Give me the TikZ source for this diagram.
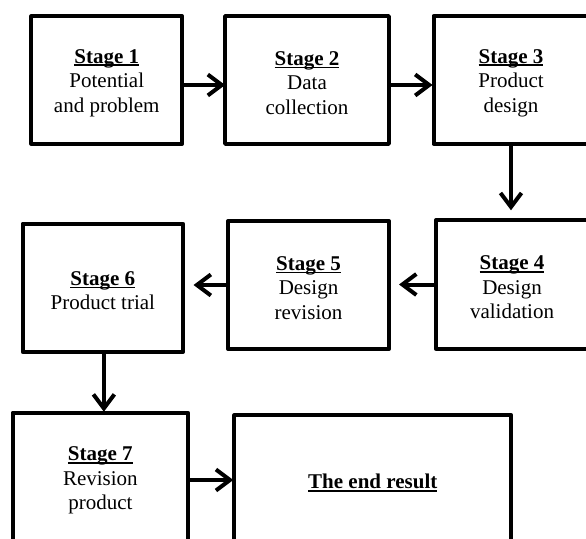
\documentclass[tikz,border=0pt]{standalone}
\usepackage{fontspec}
\setmainfont{Liberation Serif}
\usetikzlibrary{arrows.meta}
\newcommand\myul[1]{\setbox0\hbox{\bfseries #1}\rule{0pt}{20bp}\rlap{\rule[-3bp]{\wd0}{1.8bp}}\box0}
\begin{document}
\begin{tikzpicture}[x=1bp,y=-1bp,
  stagebox/.style={draw, line width=4bp, line join=round, inner sep=0pt, align=center,
    font=\fontsize{21bp}{24.5bp}\selectfont},
  conn/.style={line width=4bp, -{Straight Barb[length=14bp,width=21bp]}}]
\useasboundingbox (0,0) rectangle (586,539);
\clip (0,0) rectangle (586,539);
\node[stagebox, minimum width=150.5bp, minimum height=127.7bp] (s1) at (106.75,80) {\myul{Stage 1}\\Potential\\and problem};
\node[stagebox, minimum width=163.7bp, minimum height=127.7bp] (s2) at (307,80) {\myul{Stage 2}\\Data\\collection};
\node[stagebox, minimum width=155bp, minimum height=127.7bp] (s3) at (511,80) {\myul{Stage 3}\\Product\\design};
\node[stagebox, minimum width=152bp, minimum height=128.4bp] (s4) at (512,284.5) {\myul{Stage 4}\\Design\\validation};
\node[stagebox, minimum width=161bp, minimum height=127.7bp] (s5) at (308.5,285) {\myul{Stage 5}\\Design\\revision};
\node[stagebox, minimum width=160.3bp, minimum height=128.3bp] (s6) at (102.85,287.85) {\myul{Stage 6}\\Product trial};
\node[stagebox, minimum width=175.3bp, minimum height=130bp] (s7) at (100.35,477.7) {\myul{Stage 7}\\Revision\\product};
\node[stagebox, minimum width=277bp, minimum height=130bp] (res) at (372.8,480.3) {\myul{The end result}};
\draw[conn, shorten >=-2bp] ([yshift=-5bp]s1.east) -- ([yshift=-5bp]s2.west);
\draw[conn, shorten >=-1bp] ([yshift=-5bp]s2.east) -- ([yshift=-5bp]s3.west);
\draw[conn, shorten >=8bp] (s3.south) -- (s3.south |- s4.north);
\draw[conn, shorten >=8bp] (s4.west) -- (s4.west -| s5.east);
\draw[conn, shorten >=8.5bp] (s5.west) -- (s5.west -| s6.east);
\draw[conn, shorten >=-1bp] ([xshift=1bp]s6.south) -- ([xshift=1bp]s6.south |- s7.north);
\draw[conn, shorten >=-1bp] ([yshift=-2.3bp]s7.east) -- ([yshift=-2.3bp]s7.east -| res.west);
\end{tikzpicture}
\end{document}
